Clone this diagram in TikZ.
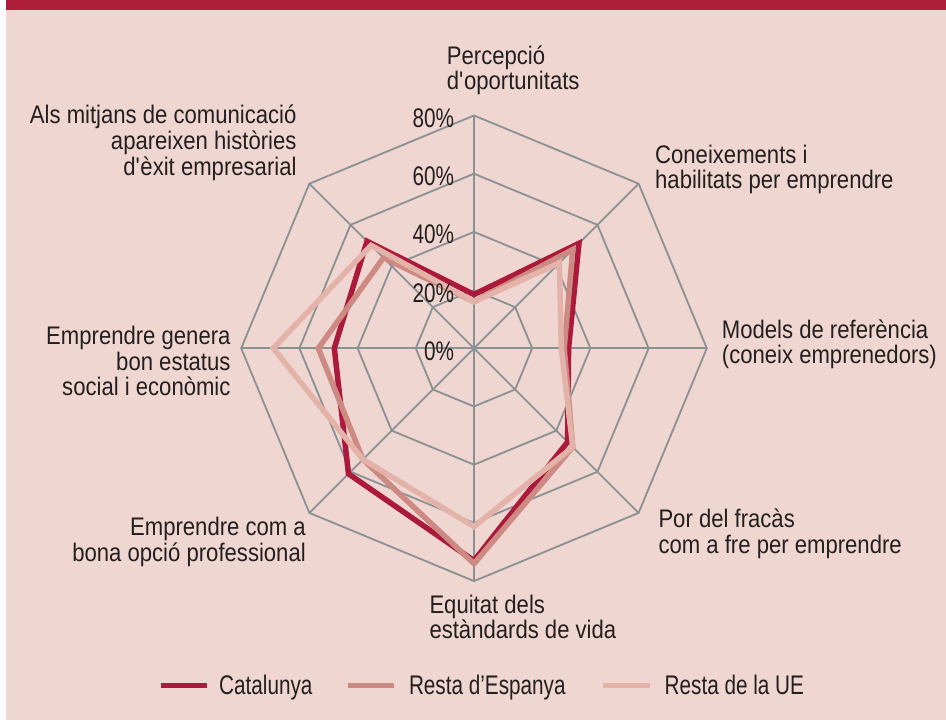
\documentclass[tikz,border=0pt]{standalone}
\usepackage{fontspec}
\setmainfont{Liberation Sans}[FakeStretch=0.87]
\newfontfamily\narrowfont{Liberation Sans}[FakeStretch=0.77]

\definecolor{bgpink}{HTML}{F0D6D1}
\definecolor{barred}{HTML}{AD1C39}
\definecolor{webgray}{HTML}{8A9195}
\definecolor{catred}{HTML}{AB1A3A}
\definecolor{espred}{HTML}{CD8A82}
\definecolor{uepink}{HTML}{E3B3AA}
\definecolor{textdark}{HTML}{231F20}

\tikzset{
  webline/.style={draw=webgray, line width=1.8bp},
  serie/.style={line width=5.5bp, line join=miter},
  catline/.style={serie, draw=catred},
  espline/.style={serie, draw=espred},
  ueline/.style={serie, draw=uepink},
  axlabel/.style={inner sep=0pt, text=textdark, font=\fontsize{25.5}{26}\selectfont},
  pctlabel/.style={inner sep=0pt, text=textdark, anchor=base east, font=\narrowfont\fontsize{27}{27}\selectfont},
  legtext/.style={inner sep=0pt, text=textdark, anchor=base west, font=\narrowfont\fontsize{27}{27}\selectfont}
}

\begin{document}
\begin{tikzpicture}[x=1bp,y=1bp]
        \useasboundingbox (0,0) rectangle (946,720);
        \fill[white] (0,0) rectangle (946,720);
        \fill[bgpink] (6,0) rectangle (946,710);
        \fill[barred] (6,710) rectangle (946,720);

        % radar web
        \begin{scope}[shift={(474,371.7)},x=2.91bp,y=2.91bp]
        \foreach \r in {20,40,60,80}
            \draw[webline] (0:\r) \foreach \a in {45,90,...,315} { -- (\a:\r)} -- cycle;
        \foreach \a in {0,45,...,315}
            \draw[webline] (0,0) -- (\a:80);
        % series
        \draw[catline] (90:18.5) -- (45:51) -- (0:32.5) -- (-45:45.5) -- (-90:73) -- (-135:61) -- (180:48) -- (135:52) -- cycle;
        \draw[espline] (90:16) -- (45:48) -- (0:31) -- (-45:48) -- (-90:74) -- (-135:54) -- (180:53.5) -- (135:44) -- cycle;
        \draw[ueline] (90:16) -- (45:41.5) -- (0:30) -- (-45:48) -- (-90:61.3) -- (-135:54) -- (180:69) -- (135:50) -- cycle;
        \end{scope}

        % percent labels
        \foreach \v in {0,20,40,60,80}
            \node[pctlabel] (pct\v) at (454.3,{359.7+2.91*\v}) {\v\%};

        % axis labels
        \node[axlabel, align=left, anchor=base west] (percepcio) at (446.7,630) {Percepció\\d\textquotesingle oportunitats};
        \node[axlabel, align=left, anchor=base west] (coneixements) at (655,531) {Coneixements i\\habilitats per emprendre};
        \node[axlabel, align=left, anchor=base west] (models) at (721.7,356) {Models de referència\\(coneix emprenedors)};
        \node[axlabel, align=left, anchor=base west] (por) at (658.3,166.7) {Por del fracàs\\com a fre per emprendre};
        \node[axlabel, align=left, anchor=base west] (equitat) at (429.3,81) {Equitat dels\\estàndards de vida};
        \node[axlabel, align=right, anchor=base east] (opcio) at (306,158.3) {Emprendre com a\\bona opció professional};
        \node[axlabel, align=right, anchor=base east] (estatus) at (230.7,324) {Emprendre genera\\bon estatus\\social i econòmic};
        \node[axlabel, align=right, anchor=base east] (mitjans) at (296.7,544.3) {Als mitjans de comunicació\\apareixen històries\\d\textquotesingle èxit empresarial};

        % legend
        \coordinate (catA) at (160.7,34.3);
        \coordinate (catB) at (206.7,34.3);
        \coordinate (espA) at (347.6,34.3);
        \coordinate (espB) at (393.6,34.3);
        \coordinate (ueA) at (603,34.3);
        \coordinate (ueB) at (650,34.3);
        \draw[catred, line width=5.3bp] (catA) -- (catB);
        \draw[espred, line width=5.3bp] (espA) -- (espB);
        \draw[uepink, line width=5.3bp] (ueA) -- (ueB);
        \node[legtext] (catleg) at (219,25) {Catalunya};
        \node[legtext] (espleg) at (408.8,25) {Resta d’Espanya};
        \node[legtext] (ueleg) at (664.5,25) {Resta de la UE};
\end{tikzpicture}
\end{document}
